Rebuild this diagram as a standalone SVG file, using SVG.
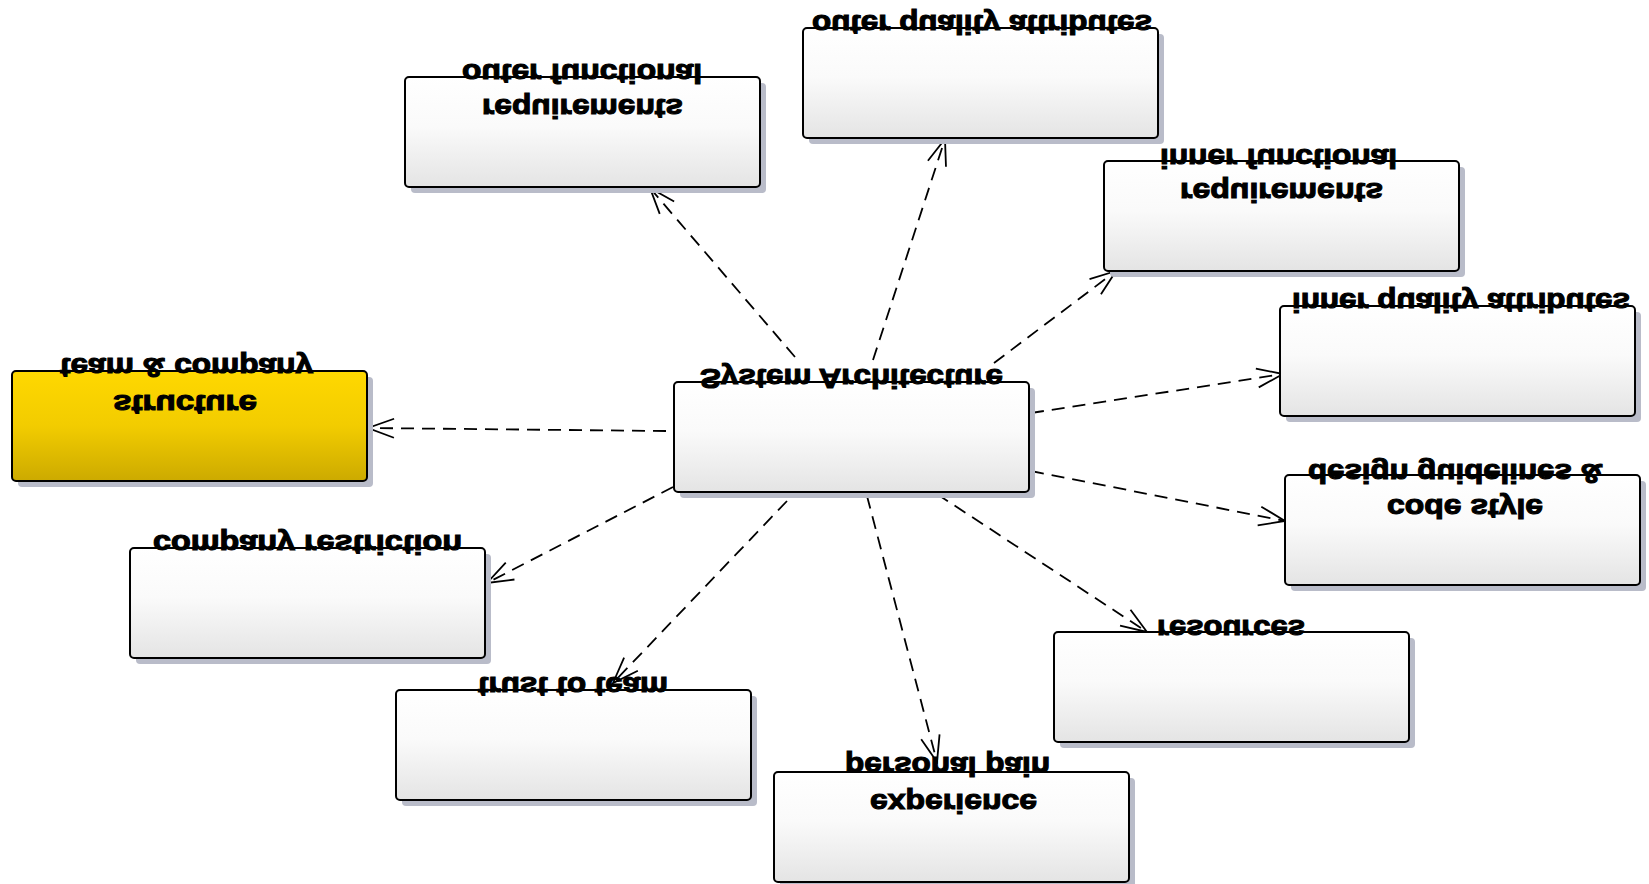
<svg xmlns="http://www.w3.org/2000/svg" width="1649" height="884" viewBox="0 0 1649 884">
<defs>
<linearGradient id="gw" x1="0" y1="0" x2="0" y2="1"><stop offset="0" stop-color="#ffffff"/><stop offset="0.45" stop-color="#fafafa"/><stop offset="1" stop-color="#e4e4e4"/></linearGradient>
<linearGradient id="gy" x1="0" y1="0" x2="0" y2="1"><stop offset="0" stop-color="#ffd800"/><stop offset="0.5" stop-color="#f2cc00"/><stop offset="1" stop-color="#ccaa00"/></linearGradient>
<marker id="arr" markerUnits="userSpaceOnUse" viewBox="-30 -15 32 30" markerWidth="32" markerHeight="30" refX="0" refY="0" orient="auto">
<path d="M-26,-9.5 L0,0 L-26,9.5" fill="none" stroke="#000" stroke-width="1.8"/>
</marker>
</defs>
<style>
.sh{fill:#b9bcc9}
.bx{fill:url(#gw);stroke:#000;stroke-width:2}
.by{fill:url(#gy);stroke:#000;stroke-width:2}
.t{font-family:"Liberation Sans",Arial,sans-serif;font-weight:bold;font-size:28px;fill:#000;stroke:#000;stroke-width:1.1}
.c{fill:none;stroke:#000;stroke-width:1.8;stroke-dasharray:13 8;marker-end:url(#arr)}
</style>
<rect width="1649" height="884" fill="#fff"/>

<g id="connectors">
<line class="c" x1="795" y1="357" x2="650" y2="188"/>
<line class="c" x1="873" y1="360" x2="945" y2="139"/>
<line class="c" x1="994" y1="363" x2="1116" y2="271"/>
<line class="c" x1="1031" y1="413" x2="1283" y2="374"/>
<line class="c" x1="1031" y1="471" x2="1285" y2="521"/>
<line class="c" x1="937" y1="494" x2="1147" y2="632"/>
<line class="c" x1="867" y1="496" x2="937" y2="762"/>
<line class="c" x1="787" y1="501" x2="613" y2="683"/>
<line class="c" x1="673" y1="487" x2="487" y2="583"/>
<line class="c" x1="666" y1="431" x2="368" y2="428"/>
</g>

<g id="system-architecture">
<rect class="sh" x="680" y="388" width="355" height="110" rx="4"/>
<rect class="bx" x="674" y="382" width="355" height="110" rx="4"/>
<text class="t" transform="matrix(1 0 0 -1 0 369)" x="700" y="0" textLength="303" lengthAdjust="spacingAndGlyphs">System Architecture</text>
</g>

<g id="outer-functional-requirements">
<rect class="sh" x="411" y="83" width="355" height="110" rx="4"/>
<rect class="bx" x="405" y="77" width="355" height="110" rx="4"/>
<text class="t" transform="matrix(1 0 0 -1 0 64)" x="462" y="0" textLength="240" lengthAdjust="spacingAndGlyphs">outer functional</text>
<text class="t" transform="matrix(1 0 0 -1 0 99)" x="482" y="0" textLength="201" lengthAdjust="spacingAndGlyphs">requirements</text>
</g>

<g id="outer-quality-attributes">
<rect class="sh" x="809" y="34" width="355" height="110" rx="4"/>
<rect class="bx" x="803" y="28" width="355" height="110" rx="4"/>
<text class="t" transform="matrix(1 0 0 -1 0 15)" x="812" y="0" textLength="340" lengthAdjust="spacingAndGlyphs">outer quality attributes</text>
</g>

<g id="inner-functional-requirements">
<rect class="sh" x="1110" y="167" width="355" height="110" rx="4"/>
<rect class="bx" x="1104" y="161" width="355" height="110" rx="4"/>
<text class="t" transform="matrix(1 0 0 -1 0 149)" x="1160" y="0" textLength="237" lengthAdjust="spacingAndGlyphs">inner functional</text>
<text class="t" transform="matrix(1 0 0 -1 0 183)" x="1180" y="0" textLength="203" lengthAdjust="spacingAndGlyphs">requirements</text>
</g>

<g id="inner-quality-attributes">
<rect class="sh" x="1286" y="312" width="355" height="110" rx="4"/>
<rect class="bx" x="1280" y="306" width="355" height="110" rx="4"/>
<text class="t" transform="matrix(1 0 0 -1 0 293)" x="1292" y="0" textLength="338" lengthAdjust="spacingAndGlyphs">inner quality attributes</text>
</g>

<g id="design-guidelines">
<rect class="sh" x="1291" y="481" width="355" height="110" rx="4"/>
<rect class="bx" x="1285" y="475" width="355" height="110" rx="4"/>
<text class="t" transform="matrix(1 0 0 -1 0 464)" x="1308" y="0" textLength="295" lengthAdjust="spacingAndGlyphs">design guidelines &amp;</text>
<text class="t" transform="matrix(1 0 0 -1 0 499)" x="1387" y="0" textLength="156" lengthAdjust="spacingAndGlyphs">code style</text>
</g>

<g id="resources">
<rect class="sh" x="1060" y="638" width="355" height="110" rx="4"/>
<rect class="bx" x="1054" y="632" width="355" height="110" rx="4"/>
<text class="t" transform="matrix(1 0 0 -1 0 620)" x="1157" y="0" textLength="148" lengthAdjust="spacingAndGlyphs">resources</text>
</g>

<g id="personal-pain-experience">
<rect class="sh" x="780" y="778" width="355" height="110" rx="4"/>
<rect class="bx" x="774" y="772" width="355" height="110" rx="4"/>
<text class="t" transform="matrix(1 0 0 -1 0 757)" x="845" y="0" textLength="205" lengthAdjust="spacingAndGlyphs">personal pain</text>
<text class="t" transform="matrix(1 0 0 -1 0 794)" x="870" y="0" textLength="167" lengthAdjust="spacingAndGlyphs">experience</text>
</g>

<g id="trust-to-team">
<rect class="sh" x="402" y="696" width="355" height="110" rx="4"/>
<rect class="bx" x="396" y="690" width="355" height="110" rx="4"/>
<text class="t" transform="matrix(1 0 0 -1 0 677)" x="478" y="0" textLength="190" lengthAdjust="spacingAndGlyphs">trust to team</text>
</g>

<g id="company-restriction">
<rect class="sh" x="136" y="554" width="355" height="110" rx="4"/>
<rect class="bx" x="130" y="548" width="355" height="110" rx="4"/>
<text class="t" transform="matrix(1 0 0 -1 0 535)" x="153" y="0" textLength="309" lengthAdjust="spacingAndGlyphs">company restriction</text>
</g>

<g id="team-company-structure">
<rect class="sh" x="18" y="377" width="355" height="110" rx="4"/>
<rect class="by" x="12" y="371" width="355" height="110" rx="4"/>
<text class="t" transform="matrix(1 0 0 -1 0 358)" x="60" y="0" textLength="253" lengthAdjust="spacingAndGlyphs">team &amp; company</text>
<text class="t" transform="matrix(1 0 0 -1 0 395)" x="113" y="0" textLength="144" lengthAdjust="spacingAndGlyphs">structure</text>
</g>
</svg>
